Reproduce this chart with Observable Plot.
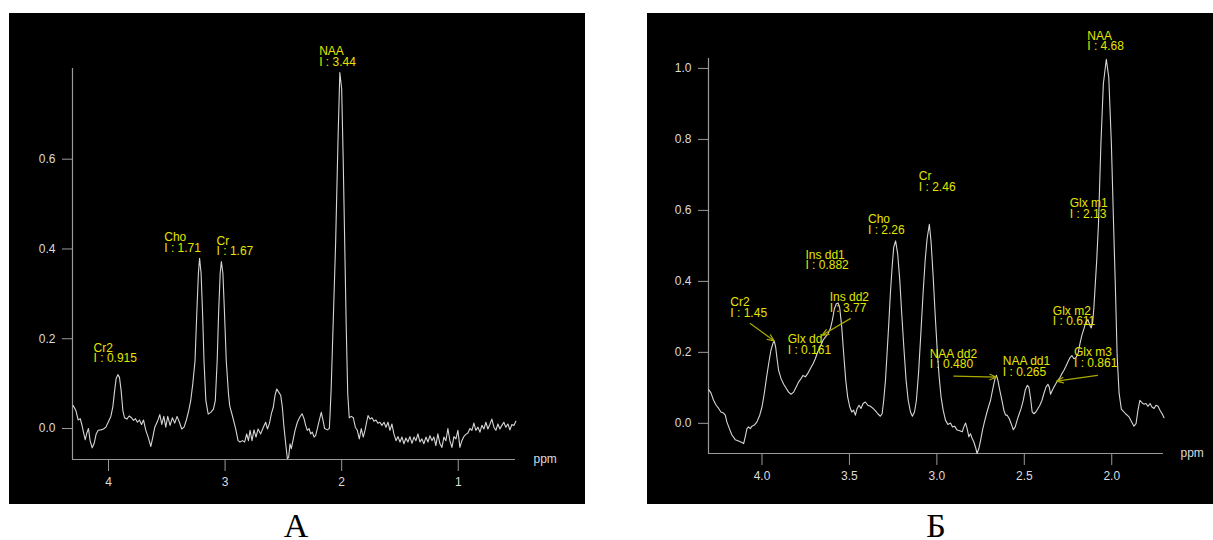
<!DOCTYPE html>
<html>
<head>
<meta charset="utf-8">
<script src="https://cdn.jsdelivr.net/npm/d3@7"></script>
<script src="https://cdn.jsdelivr.net/npm/@observablehq/plot@0.6"></script>
<style>
  html, body { margin: 0; padding: 0; background: #fff; width: 1213px; height: 540px; overflow: hidden; }
  .panel { position: absolute; background: #000; }
  .cap { position: absolute; width: 100px; text-align: center; font-family: "Liberation Serif", "Times New Roman", serif; font-size: 34px; line-height: 27px; height: 27px; color: #000; }
</style>
</head>
<body>
<div id="pa" class="panel" style="left:9px; top:13px; width:576px; height:491px;"></div>
<div id="pb" class="panel" style="left:647px; top:13px; width:566px; height:491px;"></div>
<div class="cap" style="left:246px; top:512px;">А</div>
<div class="cap" style="left:886px; top:512px;">Б</div>
<script>
// ---------- Panel A spectrum ----------
const specA_ppm = [4.303,4.280,4.260,4.243,4.229,4.215,4.200,4.186,4.172,4.158,4.140,4.123,4.106,4.089,4.066,4.043,4.023,4.003,3.980,3.963,3.949,3.935,3.920,3.906,3.892,3.877,3.863,3.843,3.823,3.803,3.786,3.769,3.752,3.735,3.717,3.700,3.680,3.660,3.637,3.620,3.603,3.580,3.560,3.543,3.526,3.509,3.492,3.472,3.452,3.432,3.412,3.392,3.372,3.352,3.332,3.312,3.295,3.277,3.258,3.242,3.229,3.219,3.206,3.194,3.181,3.165,3.145,3.123,3.100,3.084,3.068,3.055,3.042,3.032,3.019,3.006,2.990,2.971,2.960,2.938,2.909,2.889,2.872,2.852,2.832,2.815,2.800,2.786,2.769,2.752,2.735,2.717,2.695,2.672,2.652,2.637,2.620,2.603,2.586,2.572,2.557,2.540,2.523,2.509,2.495,2.480,2.466,2.455,2.443,2.432,2.418,2.400,2.380,2.360,2.340,2.323,2.309,2.295,2.280,2.266,2.252,2.237,2.223,2.209,2.192,2.175,2.160,2.146,2.123,2.106,2.100,2.090,2.074,2.052,2.032,2.016,2.000,1.987,1.974,1.961,1.948,1.935,1.917,1.900,1.883,1.866,1.849,1.832,1.815,1.800,1.786,1.774,1.757,1.740,1.723,1.706,1.689,1.672,1.655,1.637,1.620,1.603,1.586,1.569,1.552,1.534,1.517,1.500,1.483,1.466,1.449,1.432,1.415,1.397,1.380,1.363,1.346,1.329,1.312,1.295,1.277,1.260,1.243,1.226,1.209,1.192,1.175,1.157,1.140,1.123,1.106,1.089,1.072,1.054,1.037,1.020,1.003,0.986,0.969,0.952,0.935,0.917,0.900,0.883,0.866,0.849,0.831,0.814,0.797,0.780,0.763,0.746,0.729,0.712,0.694,0.677,0.660,0.643,0.626,0.609,0.592,0.574,0.557,0.540,0.523,0.506];
const specA_int = [0.051,0.040,0.019,0.022,0.009,-0.008,-0.025,-0.010,0.000,-0.027,-0.043,-0.033,-0.012,-0.004,-0.003,-0.001,0.003,0.014,0.027,0.048,0.081,0.111,0.120,0.114,0.085,0.040,0.024,0.021,0.028,0.024,0.018,0.022,0.014,0.019,0.009,0.019,-0.004,-0.019,-0.040,-0.019,0.003,0.016,0.031,0.009,0.027,0.003,0.027,0.007,0.024,0.012,0.027,0.014,-0.001,0.003,0.019,0.040,0.062,0.100,0.151,0.263,0.346,0.379,0.346,0.263,0.151,0.062,0.032,0.036,0.043,0.062,0.151,0.263,0.346,0.372,0.346,0.263,0.151,0.077,0.050,0.029,-0.001,-0.027,-0.030,-0.027,-0.030,-0.012,-0.027,-0.004,-0.027,-0.003,-0.019,-0.001,-0.012,0.003,0.014,-0.001,0.011,0.033,0.048,0.074,0.088,0.081,0.074,0.048,0.003,-0.034,-0.067,-0.064,-0.034,-0.045,-0.027,-0.004,0.014,0.025,0.033,0.022,0.007,-0.004,0.000,-0.012,-0.008,-0.019,-0.015,0.000,0.018,0.036,0.018,0.000,-0.003,0.000,0.030,0.090,0.226,0.413,0.637,0.793,0.756,0.599,0.413,0.226,0.077,0.024,0.027,0.024,0.003,-0.004,-0.023,0.000,-0.019,-0.004,0.014,0.029,0.021,0.024,0.016,0.019,0.012,0.014,0.007,0.014,0.003,0.014,-0.004,0.010,-0.012,-0.027,-0.018,-0.030,-0.019,-0.034,-0.021,-0.030,-0.018,-0.033,-0.019,-0.027,-0.012,-0.030,-0.023,-0.034,-0.019,-0.030,-0.016,-0.027,-0.019,-0.038,-0.012,-0.034,-0.042,-0.019,-0.027,0.000,-0.027,-0.042,-0.018,-0.023,-0.004,-0.042,-0.027,-0.018,-0.013,-0.010,0.000,-0.004,0.012,-0.004,0.003,-0.008,0.007,-0.001,0.014,-0.001,0.009,0.021,0.003,-0.004,0.010,-0.001,0.007,0.014,0.003,0.010,-0.003,0.009,0.007,0.016];

// Panel A peak annotations
const labA_name  = ["Cr2", "Cho", "Cr", "NAA"];
const labA_value = ["0.915", "1.71", "1.67", "3.44"];
const labA_ppm   = [4.128, 3.522, 3.073, 2.193];
const labA_int   = [0.167, 0.413, 0.405, 0.827];
const ticksA_x = [4, 3, 2, 1];
const ticksA_y = [0.0, 0.2, 0.4, 0.6];

// ---------- Panel B spectrum ----------
const specB_ppm = [4.305,4.292,4.277,4.262,4.248,4.235,4.220,4.210,4.201,4.185,4.172,4.153,4.134,4.115,4.105,4.096,4.086,4.077,4.067,4.058,4.044,4.029,4.013,4.000,3.987,3.975,3.962,3.949,3.937,3.930,3.922,3.914,3.905,3.891,3.876,3.861,3.848,3.834,3.819,3.804,3.790,3.777,3.766,3.752,3.739,3.724,3.708,3.695,3.682,3.666,3.651,3.638,3.624,3.609,3.598,3.586,3.575,3.565,3.556,3.544,3.533,3.521,3.510,3.498,3.487,3.476,3.466,3.456,3.445,3.434,3.422,3.409,3.395,3.380,3.365,3.351,3.338,3.323,3.313,3.304,3.294,3.285,3.275,3.266,3.256,3.247,3.236,3.224,3.212,3.201,3.189,3.176,3.164,3.151,3.140,3.128,3.117,3.105,3.092,3.079,3.067,3.056,3.043,3.033,3.021,3.010,2.998,2.987,2.976,2.964,2.951,2.937,2.922,2.911,2.899,2.884,2.869,2.855,2.846,2.836,2.827,2.817,2.808,2.798,2.789,2.777,2.770,2.760,2.750,2.739,2.728,2.716,2.705,2.693,2.684,2.674,2.665,2.659,2.651,2.640,2.628,2.617,2.607,2.598,2.586,2.575,2.563,2.552,2.541,2.529,2.518,2.506,2.495,2.483,2.474,2.464,2.455,2.445,2.434,2.422,2.411,2.399,2.388,2.376,2.365,2.357,2.350,2.340,2.331,2.319,2.308,2.296,2.285,2.274,2.262,2.251,2.239,2.228,2.216,2.205,2.193,2.182,2.171,2.159,2.148,2.136,2.125,2.117,2.109,2.102,2.094,2.086,2.076,2.062,2.048,2.031,2.017,2.002,1.990,1.979,1.969,1.958,1.945,1.921,1.901,1.886,1.873,1.861,1.850,1.839,1.827,1.816,1.804,1.793,1.781,1.770,1.758,1.747,1.735,1.724,1.712,1.701];
const specB_int = [0.095,0.086,0.065,0.051,0.042,0.032,0.029,0.023,0.004,-0.017,-0.033,-0.046,-0.050,-0.054,-0.057,-0.038,-0.015,-0.010,-0.015,-0.008,-0.005,0.004,0.023,0.046,0.084,0.126,0.168,0.206,0.226,0.232,0.215,0.182,0.149,0.126,0.110,0.098,0.088,0.082,0.088,0.103,0.117,0.126,0.135,0.131,0.140,0.154,0.168,0.182,0.201,0.217,0.234,0.243,0.251,0.267,0.290,0.323,0.337,0.339,0.327,0.271,0.196,0.121,0.074,0.046,0.032,0.037,0.023,0.042,0.051,0.042,0.056,0.060,0.051,0.048,0.042,0.035,0.027,0.020,0.027,0.065,0.121,0.196,0.281,0.365,0.440,0.496,0.514,0.477,0.402,0.309,0.215,0.121,0.065,0.032,0.020,0.032,0.065,0.140,0.250,0.365,0.459,0.520,0.561,0.510,0.412,0.309,0.206,0.131,0.074,0.037,0.009,-0.003,0.001,-0.010,-0.008,-0.019,-0.021,-0.024,-0.010,0.001,-0.015,-0.038,-0.029,-0.043,-0.052,-0.071,-0.085,-0.071,-0.048,-0.019,0.004,0.027,0.046,0.065,0.088,0.112,0.131,0.135,0.121,0.093,0.065,0.037,0.023,0.023,0.013,-0.001,-0.018,-0.010,0.009,0.027,0.042,0.065,0.093,0.107,0.102,0.070,0.032,0.027,0.032,0.042,0.051,0.065,0.084,0.102,0.110,0.102,0.082,0.093,0.102,0.112,0.121,0.129,0.140,0.149,0.161,0.173,0.185,0.191,0.182,0.185,0.196,0.224,0.248,0.267,0.285,0.292,0.276,0.269,0.285,0.327,0.393,0.459,0.560,0.787,0.956,1.026,0.975,0.787,0.570,0.380,0.190,0.085,0.040,0.027,0.018,0.004,-0.008,-0.001,0.037,0.065,0.058,0.054,0.056,0.048,0.056,0.046,0.042,0.051,0.048,0.037,0.027,0.016];

// Panel B peak annotations
const labB_name  = ["NAA", "Cr", "Cho", "Glx m1", "Ins dd1", "Cr2", "Ins dd2", "Glx dd", "NAA dd2", "NAA dd1", "Glx m2", "Glx m3"];
const labB_value = ["4.68", "2.46", "2.26", "2.13", "0.882", "1.45", "3.77", "0.161", "0.480", "0.265", "0.611", "0.861"];
const labB_ppm   = [2.140, 3.103, 3.394, 2.240, 3.752, 4.181, 3.613, 3.853, 3.041, 2.623, 2.337, 2.216];
const labB_int   = [1.076, 0.679, 0.558, 0.603, 0.459, 0.324, 0.338, 0.220, 0.180, 0.158, 0.301, 0.183];
// Panel B pointer arrows (from label to peak)
const arrB_ppm1 = [4.067, 3.495, 2.903, 2.082];
const arrB_int1 = [0.281, 0.295, 0.133, 0.135];
const arrB_ppm2 = [3.930, 3.657, 2.659, 2.315];
const arrB_int2 = [0.232, 0.248, 0.130, 0.119];
const ticksB_x = [4.0, 3.5, 3.0, 2.5, 2.0];
const ticksB_y = [0.0, 0.2, 0.4, 0.6, 0.8, 1.0];

// ---------- shared styling ----------
const FONT = "'Liberation Sans', Arial, sans-serif";
const CURVE = "#d6d6d6";
const AXIS = "#9a9a9a";
const TICKLBL = "#dcdcdc";
const YELLOW = "#e4e400";
const ARROW = "#a9a900";

function panel({width, height, ml, mr, mt, mb, xdom, ydom, xt, yt, xfmt, ppm, inten, labs, arrows, ppmDx}) {
  const spec = ppm.map((p, i) => ({p, v: inten[i]}));
  const marks = [
    Plot.ruleX([xdom[0]], {stroke: AXIS, strokeWidth: 1.2}),
    Plot.ruleY([ydom[0]], {stroke: AXIS, strokeWidth: 1.2}),
    Plot.axisX(xt, {tickSize: 12, tickPadding: 6, tickFormat: xfmt, stroke: AXIS, fill: TICKLBL, label: null, fontSize: 12}),
    Plot.axisY(yt, {tickSize: 10, tickPadding: 7, tickFormat: d3.format(".1f"), stroke: AXIS, fill: TICKLBL, label: null, fontSize: 12}),
    Plot.line(spec, {x: "p", y: "v", stroke: CURVE, strokeWidth: 1.1}),
    Plot.text(labs, {x: "p", y: "v", text: "t", fill: YELLOW, textAnchor: "start", lineAnchor: "middle", lineHeight: 0.88, fontSize: 12}),
    Plot.text(["ppm"], {frameAnchor: "bottom-right", dx: ppmDx, textAnchor: "start", lineAnchor: "middle", fill: TICKLBL, fontSize: 12})
  ];
  if (arrows) marks.push(Plot.arrow(arrows, {x1: "x1", y1: "y1", x2: "x2", y2: "y2", stroke: ARROW, strokeWidth: 1.2, headLength: 9, headAngle: 45}));
  return Plot.plot({
    width, height,
    marginLeft: ml, marginRight: mr, marginTop: mt, marginBottom: mb,
    style: {background: "#000", color: TICKLBL, fontFamily: FONT, fontSize: "12px", overflow: "visible"},
    x: {domain: xdom},
    y: {domain: ydom},
    marks
  });
}

const labsA = labA_name.map((n, i) => ({p: labA_ppm[i], v: labA_int[i], t: n + "\nI : " + labA_value[i]}));
const labsB = labB_name.map((n, i) => ({p: labB_ppm[i], v: labB_int[i], t: n + "\nI : " + labB_value[i]}));
const arrB = arrB_ppm1.map((d, i) => ({x1: d, y1: arrB_int1[i], x2: arrB_ppm2[i], y2: arrB_int2[i]}));

document.getElementById("pa").append(panel({
  width: 576, height: 491, ml: 63, mr: 70, mt: 55, mb: 45,
  xdom: [4.309, 0.509], ydom: [-0.069, 0.802],
  xt: ticksA_x, yt: ticksA_y, xfmt: d3.format("d"),
  ppm: specA_ppm, inten: specA_int, labs: labsA, arrows: null, ppmDx: 18
}));
document.getElementById("pb").append(panel({
  width: 566, height: 491, ml: 61, mr: 50, mt: 45, mb: 51,
  xdom: [4.306, 1.704], ydom: [-0.085, 1.028],
  xt: ticksB_x, yt: ticksB_y, xfmt: d3.format(".1f"),
  ppm: specB_ppm, inten: specB_int, labs: labsB, arrows: arrB, ppmDx: 17
}));
</script>
</body>
</html>
